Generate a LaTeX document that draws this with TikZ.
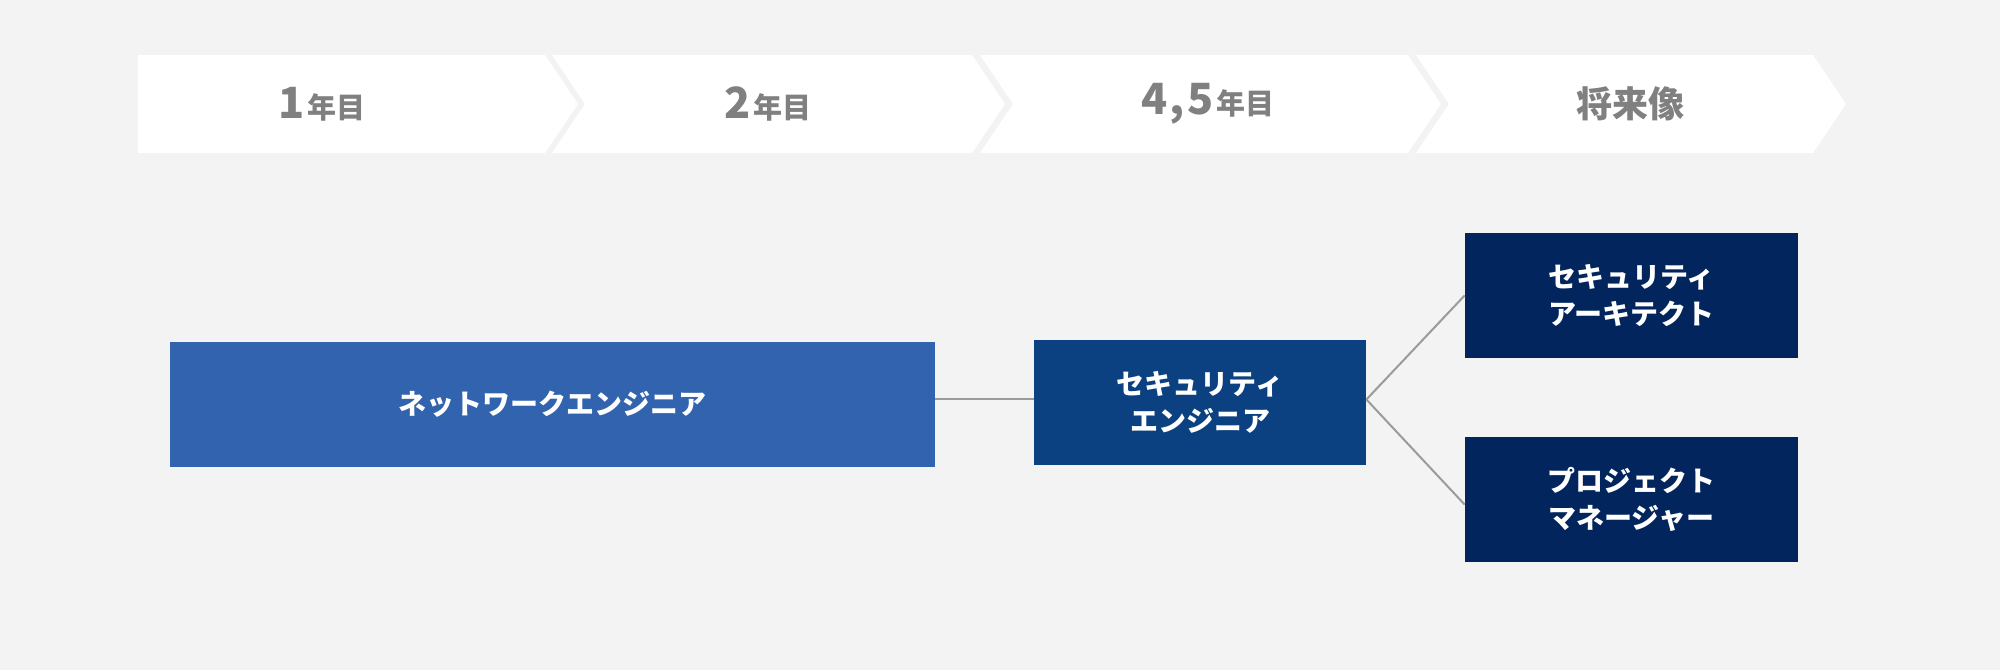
\documentclass[tikz,border=0pt]{standalone}
\usepackage{fontspec}
\setmainfont{Noto Sans CJK JP}
\definecolor{bg}{RGB}{243,243,243}
\definecolor{labgray}{RGB}{128,128,128}
\definecolor{netblue}{RGB}{49,99,174}
\definecolor{secblue}{RGB}{11,65,128}
\definecolor{navy}{RGB}{2,37,94}
\definecolor{linegray}{RGB}{155,155,155}
\tikzset{
  chev/.style={fill=white},
  steplabel/.style={text=labgray,font=\bfseries,inner sep=0pt},
  rolebox/.style={draw=none,text=white,font=\fontsize{14}{18.5}\selectfont\bfseries,align=center,inner sep=0pt},
  conn/.style={draw=linegray,line width=1pt}
}
\newcommand{\bignum}[1]{{\fontsize{21.5}{22}\selectfont #1}\kern1.5pt}
\newcommand{\smallkan}[1]{{\fontsize{14.5}{15}\selectfont #1}}
\begin{document}
\begin{tikzpicture}[x=0.5pt,y=-0.5pt]
\fill[bg] (0,0) rectangle (2000,670);
\useasboundingbox (0,0) rectangle (2000,670);
% chevrons
\fill[chev] (138,55) -- (545,55) -- (578,104) -- (545,153) -- (138,153) -- cycle;
\fill[chev] (552,55) -- (972,55) -- (1005,104) -- (972,153) -- (552,153) -- (585,104) -- cycle;
\fill[chev] (980,55) -- (1408,55) -- (1441,104) -- (1408,153) -- (980,153) -- (1013,104) -- cycle;
\fill[chev] (1416,55) -- (1813,55) -- (1846,104) -- (1813,153) -- (1416,153) -- (1449,104) -- cycle;
% step labels
\node[steplabel] (y1) at (322,104) {\bignum{1}\smallkan{年目}};
\node[steplabel] (y2) at (768,104) {\bignum{2}\smallkan{年目}};
\node[steplabel] (y45) at (1208,104) {\bignum{4\kern1pt,\kern1pt5}\smallkan{年目}};
\node[steplabel,font=\fontsize{18}{18}\selectfont\bfseries] (fut) at (1630,104) {将来像};
% role boxes
\node[rolebox,fill=netblue,minimum width=382.5pt,minimum height=62.5pt] (net) at (552.5,404.5) {ネットワークエンジニア};
\node[rolebox,fill=secblue,minimum width=166pt,minimum height=62.5pt] (sec) at (1200,402.5) {セキュリティ\\エンジニア};
\node[rolebox,fill=navy,minimum width=166.5pt,minimum height=62.5pt] (arch) at (1631.5,295.5) {セキュリティ\\アーキテクト};
\node[rolebox,fill=navy,minimum width=166.5pt,minimum height=62.5pt] (pm) at (1631.5,499.5) {プロジェクト\\マネージャー};
% connectors
\coordinate (split) at ([yshift=1.5pt]sec.east);
\draw[conn] ([yshift=3pt]net.east) -- ([yshift=3pt]net.east -| sec.west);
\draw[conn] (split) -- (arch.west);
\draw[conn] (split) -- ([yshift=-2.5pt]pm.west);
\end{tikzpicture}
\end{document}
